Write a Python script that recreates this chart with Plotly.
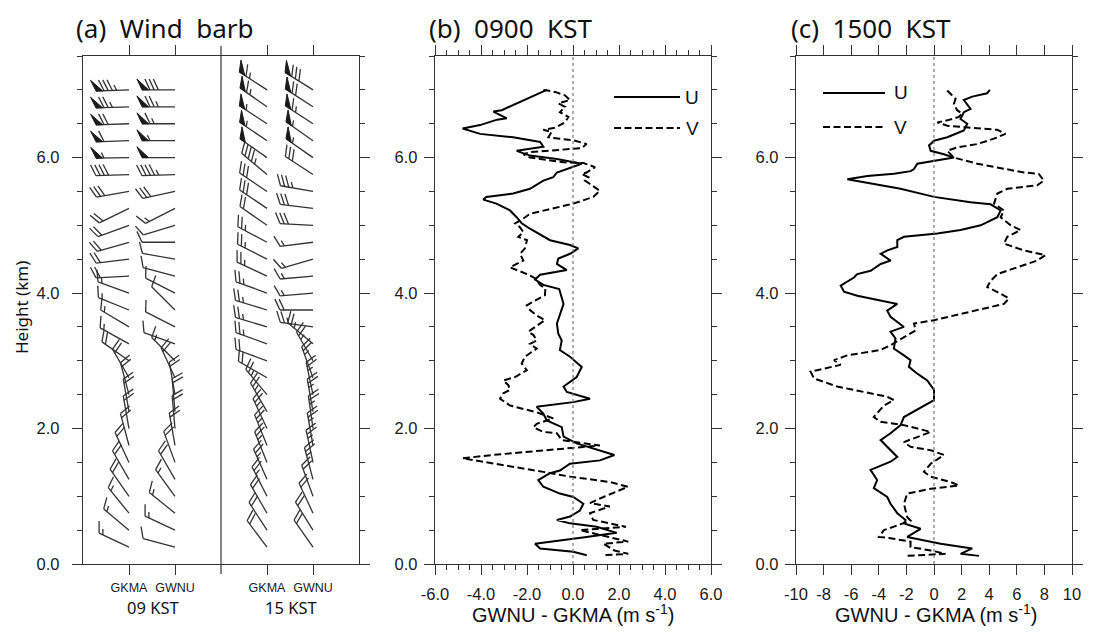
import numpy as np
import plotly.graph_objects as go

# The page body keeps an 8 px margin, so the figure is laid out 8 px in from the window edge.
WIN_W, WIN_H, OFF = 1101, 634, 8
W, H = WIN_W - 2 * OFF, WIN_H - 2 * OFF


def px_x(p):
    return (p - OFF) / W


def px_y(p):
    return 1 - (p - OFF) / H


# ---------------- panel (a) wind barbs ----------------
heights = [0.25, 0.5, 0.75, 1.0, 1.25, 1.5, 1.75, 2.0, 2.25, 2.5, 2.75, 3.0, 3.25, 3.5,
           3.75, 4.0, 4.25, 4.5, 4.75, 5.0, 5.25, 5.5, 5.75, 6.0, 6.25, 6.5, 6.75, 7.0]
columns = ["GKMA", "GWNU", "GKMA", "GWNU"]
col_pos = [1, 2, 4, 5]
divider_pos = 3

dir_09_gkma = [295, 310, 321, 325, 330, 335, 345, 350, 350, 345, 330, 305, 299, 301,
               292, 290, 267, 263, 254, 250, 244, 260, 268, 269, 268, 268, 268, 268]
spd_09_gkma = [15, 15, 15, 20, 20, 20, 20, 20, 20, 20, 20, 20, 15, 15,
               15, 15, 20, 20, 20, 20, 20, 30, 40, 55, 60, 70, 75, 85]
dir_09_gwnu = [285, 295, 309, 324, 330, 340, 350, 355, 355, 350, 335, 315, 290, 297,
               315, 297, 285, 280, 270, 253, 243, 258, 268, 270, 270, 270, 270, 270]
spd_09_gwnu = [10, 15, 15, 15, 20, 20, 20, 20, 20, 20, 20, 15, 10, 10,
               10, 10, 10, 10, 10, 10, 15, 30, 45, 50, 55, 65, 75, 80]
dir_15_gkma = [323, 327, 330, 333, 336, 338, 338, 335, 330, 320, 300, 290, 290, 287,
               287, 290, 295, 297, 298, 305, 304, 304, 310, 305, 304, 303, 305, 303]
spd_15_gkma = [20, 20, 20, 25, 25, 25, 25, 25, 25, 25, 20, 20, 25, 25,
               25, 25, 25, 25, 25, 20, 30, 30, 45, 50, 55, 55, 65, 65]
dir_15_gwnu = [325, 328, 335, 340, 345, 348, 350, 352, 350, 348, 340, 330, 310, 278,
               270, 265, 265, 254, 263, 273, 277, 280, 303, 305, 305, 303, 303, 302]
spd_15_gwnu = [20, 20, 20, 20, 25, 25, 25, 25, 25, 25, 25, 25, 25, 25,
               20, 15, 15, 15, 15, 30, 30, 35, 30, 55, 55, 65, 70, 80]

# ---------------- panel (b) 0900 KST ----------------
h_b_u = [7.0, 6.89, 6.77, 6.70, 6.68, 6.58, 6.56, 6.48, 6.43, 6.35, 6.30, 6.23, 6.16, 6.10,
         6.03, 5.98, 5.91, 5.78, 5.71, 5.66, 5.54, 5.47, 5.42, 5.38, 5.32, 5.22, 5.12, 5.03,
         4.95, 4.83, 4.78, 4.71, 4.66, 4.58, 4.51, 4.43, 4.34, 4.27, 4.20, 4.12, 4.06,
         3.84, 3.55, 3.40, 3.30, 3.16, 3.06, 2.91, 2.76, 2.62, 2.54, 2.44, 2.39, 2.32, 2.22,
         2.12, 2.02, 1.88, 1.78, 1.61, 1.53, 1.48, 1.38, 1.34, 1.24, 1.14, 1.04, 0.99, 0.89,
         0.79, 0.70, 0.65, 0.60, 0.55, 0.46, 0.40, 0.30, 0.23, 0.18, 0.13]
u_b = [-1.14, -1.87, -2.6, -3.1, -3.46, -2.88, -3.3, -4.04, -4.8, -4.04, -2.6, -1.43, -1.29, -2.45,
       -1.87, -0.70, 0.38, -0.70, -0.86, -1.29, -1.87, -2.6, -3.77, -3.9, -3.33, -2.74, -2.45, -2.23,
       -1.87, -1.29, -1.0, -0.13, 0.23, -0.13, -0.64, -0.70, -0.27, -1.43, -1.65, -1.29, -0.6,
       -0.41, -0.70, -0.64, -0.49, -0.57, -0.13, 0.38, 0.16, -0.41, -0.27, 0.74, 0.01, -1.58, -1.29,
       -1.14, -0.49, -0.41, 0.16, 1.8, 1.17, -0.13, -0.57, -1.0, -1.51, -1.29, -0.57, 0.01, 0.45,
       0.30, -0.13, -0.70, -0.13, 1.03, 1.9, 0.59, -1.65, -1.43, 0.01, 0.6]
h_b_v = [7.0, 6.97, 6.92, 6.85, 6.80, 6.75, 6.67, 6.60, 6.52, 6.44, 6.41, 6.38, 6.30, 6.27,
         6.25, 6.20, 6.14, 6.08, 6.05, 6.0, 5.93, 5.92, 5.86, 5.78, 5.76, 5.71, 5.66, 5.61,
         5.51, 5.42, 5.32, 5.24, 5.17, 5.10, 5.03, 4.97, 4.90, 4.83, 4.78, 4.66, 4.58, 4.48,
         4.38, 4.28, 4.22, 4.12, 4.07, 3.97, 3.82, 3.75, 3.67, 3.60, 3.55, 3.43, 3.38, 3.30,
         3.25, 3.18, 3.06, 2.96, 2.86, 2.76, 2.71, 2.64, 2.57, 2.52, 2.44, 2.34, 2.24, 2.20,
         2.15, 2.07, 2.02, 1.95, 1.93, 1.83, 1.75, 1.61, 1.56, 1.36, 1.29, 1.21, 1.14, 1.0,
         0.90, 0.85, 0.75, 0.65, 0.60, 0.55, 0.50, 0.40, 0.33, 0.30, 0.20, 0.15, 0.13]
v_b = [-1.29, -0.78, -0.35, -0.13, -0.64, -0.35, -0.57, -0.2, -0.35, -0.78, -1.29, -0.93, -1.07, -0.49,
       0.09, 0.59, 0.38, -1.87, -2.16, -1.87, -0.41, 0.45, 0.96, 0.59, 0.38, 0.67, 0.52, 0.74,
       1.17, 0.88, 0.01, -1.0, -1.87, -2.16, -2.52, -2.3, -2.16, -2.38, -2.0, -2.09, -2.3, -2.16,
       -2.74, -2.0, -1.65, -1.43, -1.2, -1.22, -2.01, -1.87, -1.58, -1.22, -1.43, -1.94, -1.72, -1.58,
       -1.87, -1.58, -2.09, -2.23, -2.01, -2.52, -3.03, -2.81, -2.74, -3.03, -3.17, -2.74, -1.58, -1.29,
       -0.86, -1.58, -1.72, -1.29, -0.70, -0.49, 1.17, -3.5, -4.8, -1.29, -0.13, 1.61, 2.39, 1.4,
       0.74, 1.6, 0.74, 0.88, 1.61, 2.3, 0.3, 1.61, 2.4, 1.32, 1.8, 2.4, 1.32]

# ---------------- panel (c) 1500 KST ----------------
h_c_u = [7.0, 6.95, 6.90, 6.85, 6.72, 6.67, 6.57, 6.50, 6.40, 6.30, 6.25, 6.18, 6.10, 6.05,
         6.0, 5.96, 5.91, 5.83, 5.80, 5.76, 5.73, 5.68, 5.61, 5.54, 5.42, 5.34, 5.31, 5.22,
         5.12, 5.0, 4.93, 4.88, 4.83, 4.78, 4.68, 4.63, 4.58, 4.48, 4.43, 4.33, 4.28, 4.23,
         4.11, 4.02, 3.96, 3.89, 3.84, 3.74, 3.65, 3.50, 3.43, 3.33, 3.18, 3.08, 3.01, 2.91,
         2.81, 2.71, 2.57, 2.42, 2.34, 2.17, 2.05, 1.93, 1.83, 1.73, 1.63, 1.58, 1.51, 1.39,
         1.24, 1.12, 0.99, 0.89, 0.75, 0.65, 0.60, 0.52, 0.40, 0.35, 0.30, 0.23, 0.15, 0.12]
u_c = [4.05, 3.85, 2.77, 2.16, 2.65, 2.16, 1.92, 2.41, 2.16, 0.96, 0.0, -0.36, -0.24, 0.72,
       1.45, 0.24, -1.21, -1.45, -1.69, -2.9, -4.83, -6.28, -4.35, -2.42, 0.0, 2.65, 4.1, 4.83,
       4.59, 3.38, 1.92, 0.24, -2.17, -2.66, -2.66, -3.38, -3.86, -3.14, -3.86, -4.59, -5.56, -5.8,
       -6.76, -6.52, -5.56, -3.86, -2.66, -3.39, -3.15, -2.18, -3.15, -2.79, -2.91, -2.18, -1.70, -1.82,
       -1.21, -0.49, 0.0, 0.0, -0.73, -2.18, -2.42, -3.15, -3.87, -3.39, -2.91, -2.66, -3.15, -4.60,
       -4.12, -4.36, -3.39, -3.15, -2.66, -2.06, -2.18, -0.97, -1.94, -0.73, 0.48, 2.77, 1.93, 3.26]
h_c_v = [6.99, 6.94, 6.87, 6.79, 6.70, 6.65, 6.60, 6.55, 6.52, 6.47, 6.45, 6.41, 6.35, 6.28,
         6.20, 6.15, 6.10, 6.0, 5.91, 5.83, 5.78, 5.76, 5.66, 5.59, 5.54, 5.47, 5.32, 5.22,
         5.12, 5.0, 4.93, 4.83, 4.73, 4.63, 4.56, 4.48, 4.38, 4.28, 4.18, 4.09, 3.99, 3.92,
         3.84, 3.75, 3.60, 3.55, 3.45, 3.23, 3.16, 3.08, 3.01, 2.94, 2.89, 2.84, 2.74, 2.62,
         2.54, 2.47, 2.42, 2.34, 2.17, 2.10, 2.05, 1.95, 1.80, 1.73, 1.68, 1.61, 1.48, 1.36,
         1.29, 1.21, 1.16, 1.11, 1.04, 0.89, 0.69, 0.64, 0.50, 0.40, 0.38, 0.33, 0.25, 0.20,
         0.15, 0.12]
v_c = [0.96, 1.20, 1.56, 1.44, 1.68, 2.04, 1.80, 0.96, 0.24, 0.96, 2.41, 4.59, 5.18, 4.35,
       3.14, 1.68, 0.96, 1.44, 3.14, 5.07, 6.51, 7.59, 7.96, 7.48, 5.31, 4.59, 4.35, 5.07,
       4.83, 5.56, 6.28, 5.31, 5.07, 6.51, 8.08, 7.48, 6.03, 4.59, 4.10, 3.86, 4.83, 5.43,
       5.07, 3.14, 0.0, -1.45, -1.33, -3.15, -3.87, -6.29, -7.25, -6.77, -7.97, -8.94, -8.70, -7.01,
       -5.08, -3.39, -2.91, -3.63, -4.36, -3.87, -2.18, -0.24, -2.18, -1.70, -0.24, 0.72, -0.24, -0.73,
       -0.24, 1.21, 1.81, -0.24, -1.94, -2.18, -1.94, -1.70, -3.63, -3.99, -3.15, -1.70, -1.70, -0.24,
       0.84, -1.94]

# ---------------- geometry (window pixels) ----------------
XA = (83, 359)
XB = (435, 711)
XC = (796, 1072)
Y_TOP, Y_BOT = 56, 564
YMAX = 7.5
PX_X = (XA[1] - XA[0]) / 6.0
PX_Y = (Y_BOT - Y_TOP) / YMAX

STAFF, FEATH, SPACE, FLAGW = 33.0, 12.0, 4.2, 6.5
ROT = np.deg2rad(-65)


def barb_geom(xc, h, d, s):
    th = np.deg2rad(d)
    ux, uy = np.sin(th), np.cos(th)
    fx = ux * np.cos(ROT) - uy * np.sin(ROT)
    fy = ux * np.sin(ROT) + uy * np.cos(ROT)

    def P(t, extra=0.0):
        px = t * ux + extra * fx
        py = t * uy + extra * fy
        return xc + px / PX_X, h + py / PX_Y

    lines_x, lines_y, fl_x, fl_y = [], [], [], []
    bx, by = P(0)
    tx, ty = P(STAFF)
    lines_x += [bx, tx, None]
    lines_y += [by, ty, None]
    n50 = int(s // 50)
    rem = s - 50 * n50
    n10 = int(rem // 10)
    n5 = int(round((rem - 10 * n10) / 5.0))
    t = STAFF
    for _ in range(n50):
        a = P(t); b = P(t, FEATH); c = P(t - FLAGW)
        fl_x += [a[0], b[0], c[0], a[0], None]
        fl_y += [a[1], b[1], c[1], a[1], None]
        t -= FLAGW + 1.5
    for _ in range(n10):
        a = P(t); b = P(t, FEATH)
        lines_x += [a[0], b[0], None]
        lines_y += [a[1], b[1], None]
        t -= SPACE
    if n5:
        if n50 == 0 and n10 == 0:
            t -= SPACE
        a = P(t); b = P(t, FEATH * 0.5)
        lines_x += [a[0], b[0], None]
        lines_y += [a[1], b[1], None]
    return lines_x, lines_y, fl_x, fl_y


barb_sets = [(col_pos[0], dir_09_gkma, spd_09_gkma), (col_pos[1], dir_09_gwnu, spd_09_gwnu),
             (col_pos[2], dir_15_gkma, spd_15_gkma), (col_pos[3], dir_15_gwnu, spd_15_gwnu)]
LX, LY, FX, FY = [], [], [], []
for xc, dirs, spds in barb_sets:
    for h, d, s in zip(heights, dirs, spds):
        a, b, c, e = barb_geom(xc, h, d, s)
        LX += a; LY += b; FX += c; FY += e

fig = go.Figure()
fig.add_trace(go.Scatter(x=LX, y=LY, mode="lines", line=dict(color="#333333", width=1.3),
                         xaxis="x", yaxis="y", hoverinfo="skip", showlegend=False))
fig.add_trace(go.Scatter(x=FX, y=FY, mode="lines", fill="toself", fillcolor="#1a1a1a",
                         line=dict(color="#1a1a1a", width=1), xaxis="x", yaxis="y",
                         hoverinfo="skip", showlegend=False))

DASH = "7px,3.5px"
fig.add_trace(go.Scatter(x=u_b, y=h_b_u, mode="lines", line=dict(color="black", width=2),
                         xaxis="x2", yaxis="y2", showlegend=False, name="U"))
fig.add_trace(go.Scatter(x=v_b, y=h_b_v, mode="lines", line=dict(color="black", width=2, dash=DASH),
                         xaxis="x2", yaxis="y2", showlegend=False, name="V"))
fig.add_trace(go.Scatter(x=u_c, y=h_c_u, mode="lines", line=dict(color="black", width=2),
                         xaxis="x3", yaxis="y3", showlegend=False, name="U"))
fig.add_trace(go.Scatter(x=v_c, y=h_c_v, mode="lines", line=dict(color="black", width=2, dash=DASH),
                         xaxis="x3", yaxis="y3", showlegend=False, name="V"))

SANS = "Liberation Sans, Arial, Helvetica"
TICKFONT = dict(family=SANS, size=16.5, color="#1a1a1a")
YDOM = [px_y(Y_BOT), px_y(Y_TOP)]


def dom(p):
    return [px_x(p[0]), px_x(p[1])]


axis_common = dict(showline=True, linecolor="#333", linewidth=1.3, mirror="ticks", ticks="outside",
                   ticklen=10, tickwidth=1.2, tickcolor="#333", showgrid=False, zeroline=False,
                   tickfont=TICKFONT, fixedrange=True, automargin=False)
ylabels = [0, 2, 4, 6]
yaxis_common = dict(axis_common, range=[0, YMAX], tickvals=ylabels,
                    ticktext=["%.1f" % v for v in ylabels],
                    minor=dict(dtick=0.5, ticklen=5, tickwidth=1.1, tickcolor="#333", ticks="outside"))

xb_ticks = [-6, -4, -2, 0, 2, 4, 6]
xc_ticks = [-10, -8, -6, -4, -2, 0, 2, 4, 6, 8, 10]

fig.update_layout(
    width=W, height=H, margin=dict(l=0, r=0, t=0, b=0),
    paper_bgcolor="white", plot_bgcolor="white",
    xaxis=dict(axis_common, domain=dom(XA), anchor="y", range=[0, 6], tickvals=col_pos,
               ticktext=columns, tickfont=dict(family=SANS, size=12.5, color="#1a1a1a"),
               ticklabelstandoff=2),
    yaxis=dict(yaxis_common, domain=YDOM, anchor="x", ticklabelstandoff=9),
    xaxis2=dict(axis_common, domain=dom(XB), anchor="y2", range=[-6, 6], tickvals=xb_ticks,
                ticktext=["%.1f" % v for v in xb_ticks], ticklabelstandoff=5,
                minor=dict(dtick=0.5, ticklen=5, tickwidth=1.1, tickcolor="#333", ticks="outside")),
    yaxis2=dict(yaxis_common, domain=YDOM, anchor="x2", ticklabelstandoff=3),
    xaxis3=dict(axis_common, domain=dom(XC), anchor="y3", range=[-10, 10], tickvals=xc_ticks,
                ticktext=[str(v) for v in xc_ticks], ticklabelstandoff=5),
    yaxis3=dict(yaxis_common, domain=YDOM, anchor="x3", ticklabelstandoff=3),
)

# column divider in (a), with its tick marks above and below the frame
TICK_PAPER = 10 / H
fig.add_shape(type="line", xref="x", yref="paper", x0=divider_pos, x1=divider_pos,
              y0=YDOM[0] - TICK_PAPER, y1=YDOM[1] + TICK_PAPER, line=dict(color="#333", width=1.2))
# zero lines in (b), (c)
for xr, yr in (("x2", "y2"), ("x3", "y3")):
    fig.add_shape(type="line", xref=xr, yref=yr, x0=0, x1=0, y0=0, y1=YMAX,
                  line=dict(color="#777", width=1.2, dash="dot"))

TITLEFONT = dict(family="Noto Sans, DejaVu Sans", size=26, color="#111")
NB = "\u00a0\u00a0"
titles = [("(a)" + NB + "Wind" + NB + "barb", 74), ("(b)" + NB + "0900" + NB + "KST", 427),
          ("(c)" + NB + "1500" + NB + "KST", 789)]
for txt, px in titles:
    fig.add_annotation(text=txt, xref="paper", yref="paper", x=px_x(px), y=px_y(28),
                       xanchor="left", yanchor="middle", showarrow=False, font=TITLEFONT)

fig.add_annotation(text="Height (km)", xref="paper", yref="paper", x=px_x(21), y=px_y(308),
                   textangle=-90, showarrow=False, xanchor="center", yanchor="middle",
                   font=dict(family="Noto Sans, DejaVu Sans", size=17, color="#111"))
for txt, px in (("09 KST", 153), ("15 KST", 291)):
    fig.add_annotation(text=txt, xref="paper", yref="paper", x=px_x(px), y=px_y(607),
                       showarrow=False, xanchor="center", yanchor="middle",
                       font=dict(family="Noto Sans, DejaVu Sans", size=16.5, color="#111"))
XT = "GWNU - GKMA (m s<sup>-1</sup>)"
for px in (573, 936):
    fig.add_annotation(text=XT, xref="paper", yref="paper", x=px_x(px), y=px_y(613),
                       showarrow=False, xanchor="center", yanchor="middle",
                       font=dict(family=SANS, size=20, color="#111"))

# legends
LEGFONT = dict(family=SANS, size=19, color="#111")
for x0, x1, xt, yu, yv in ((614, 680, 692, 97, 128), (823, 885, 901, 93, 127)):
    fig.add_shape(type="line", xref="paper", yref="paper", x0=px_x(x0), x1=px_x(x1), y0=px_y(yu), y1=px_y(yu),
                  line=dict(color="black", width=2))
    fig.add_shape(type="line", xref="paper", yref="paper", x0=px_x(x0), x1=px_x(x1), y0=px_y(yv), y1=px_y(yv),
                  line=dict(color="black", width=2, dash=DASH))
    fig.add_annotation(text="U", xref="paper", yref="paper", x=px_x(xt), y=px_y(yu), showarrow=False,
                       xanchor="center", yanchor="middle", font=LEGFONT)
    fig.add_annotation(text="V", xref="paper", yref="paper", x=px_x(xt), y=px_y(yv), showarrow=False,
                       xanchor="center", yanchor="middle", font=LEGFONT)

fig.write_html("out.html")
